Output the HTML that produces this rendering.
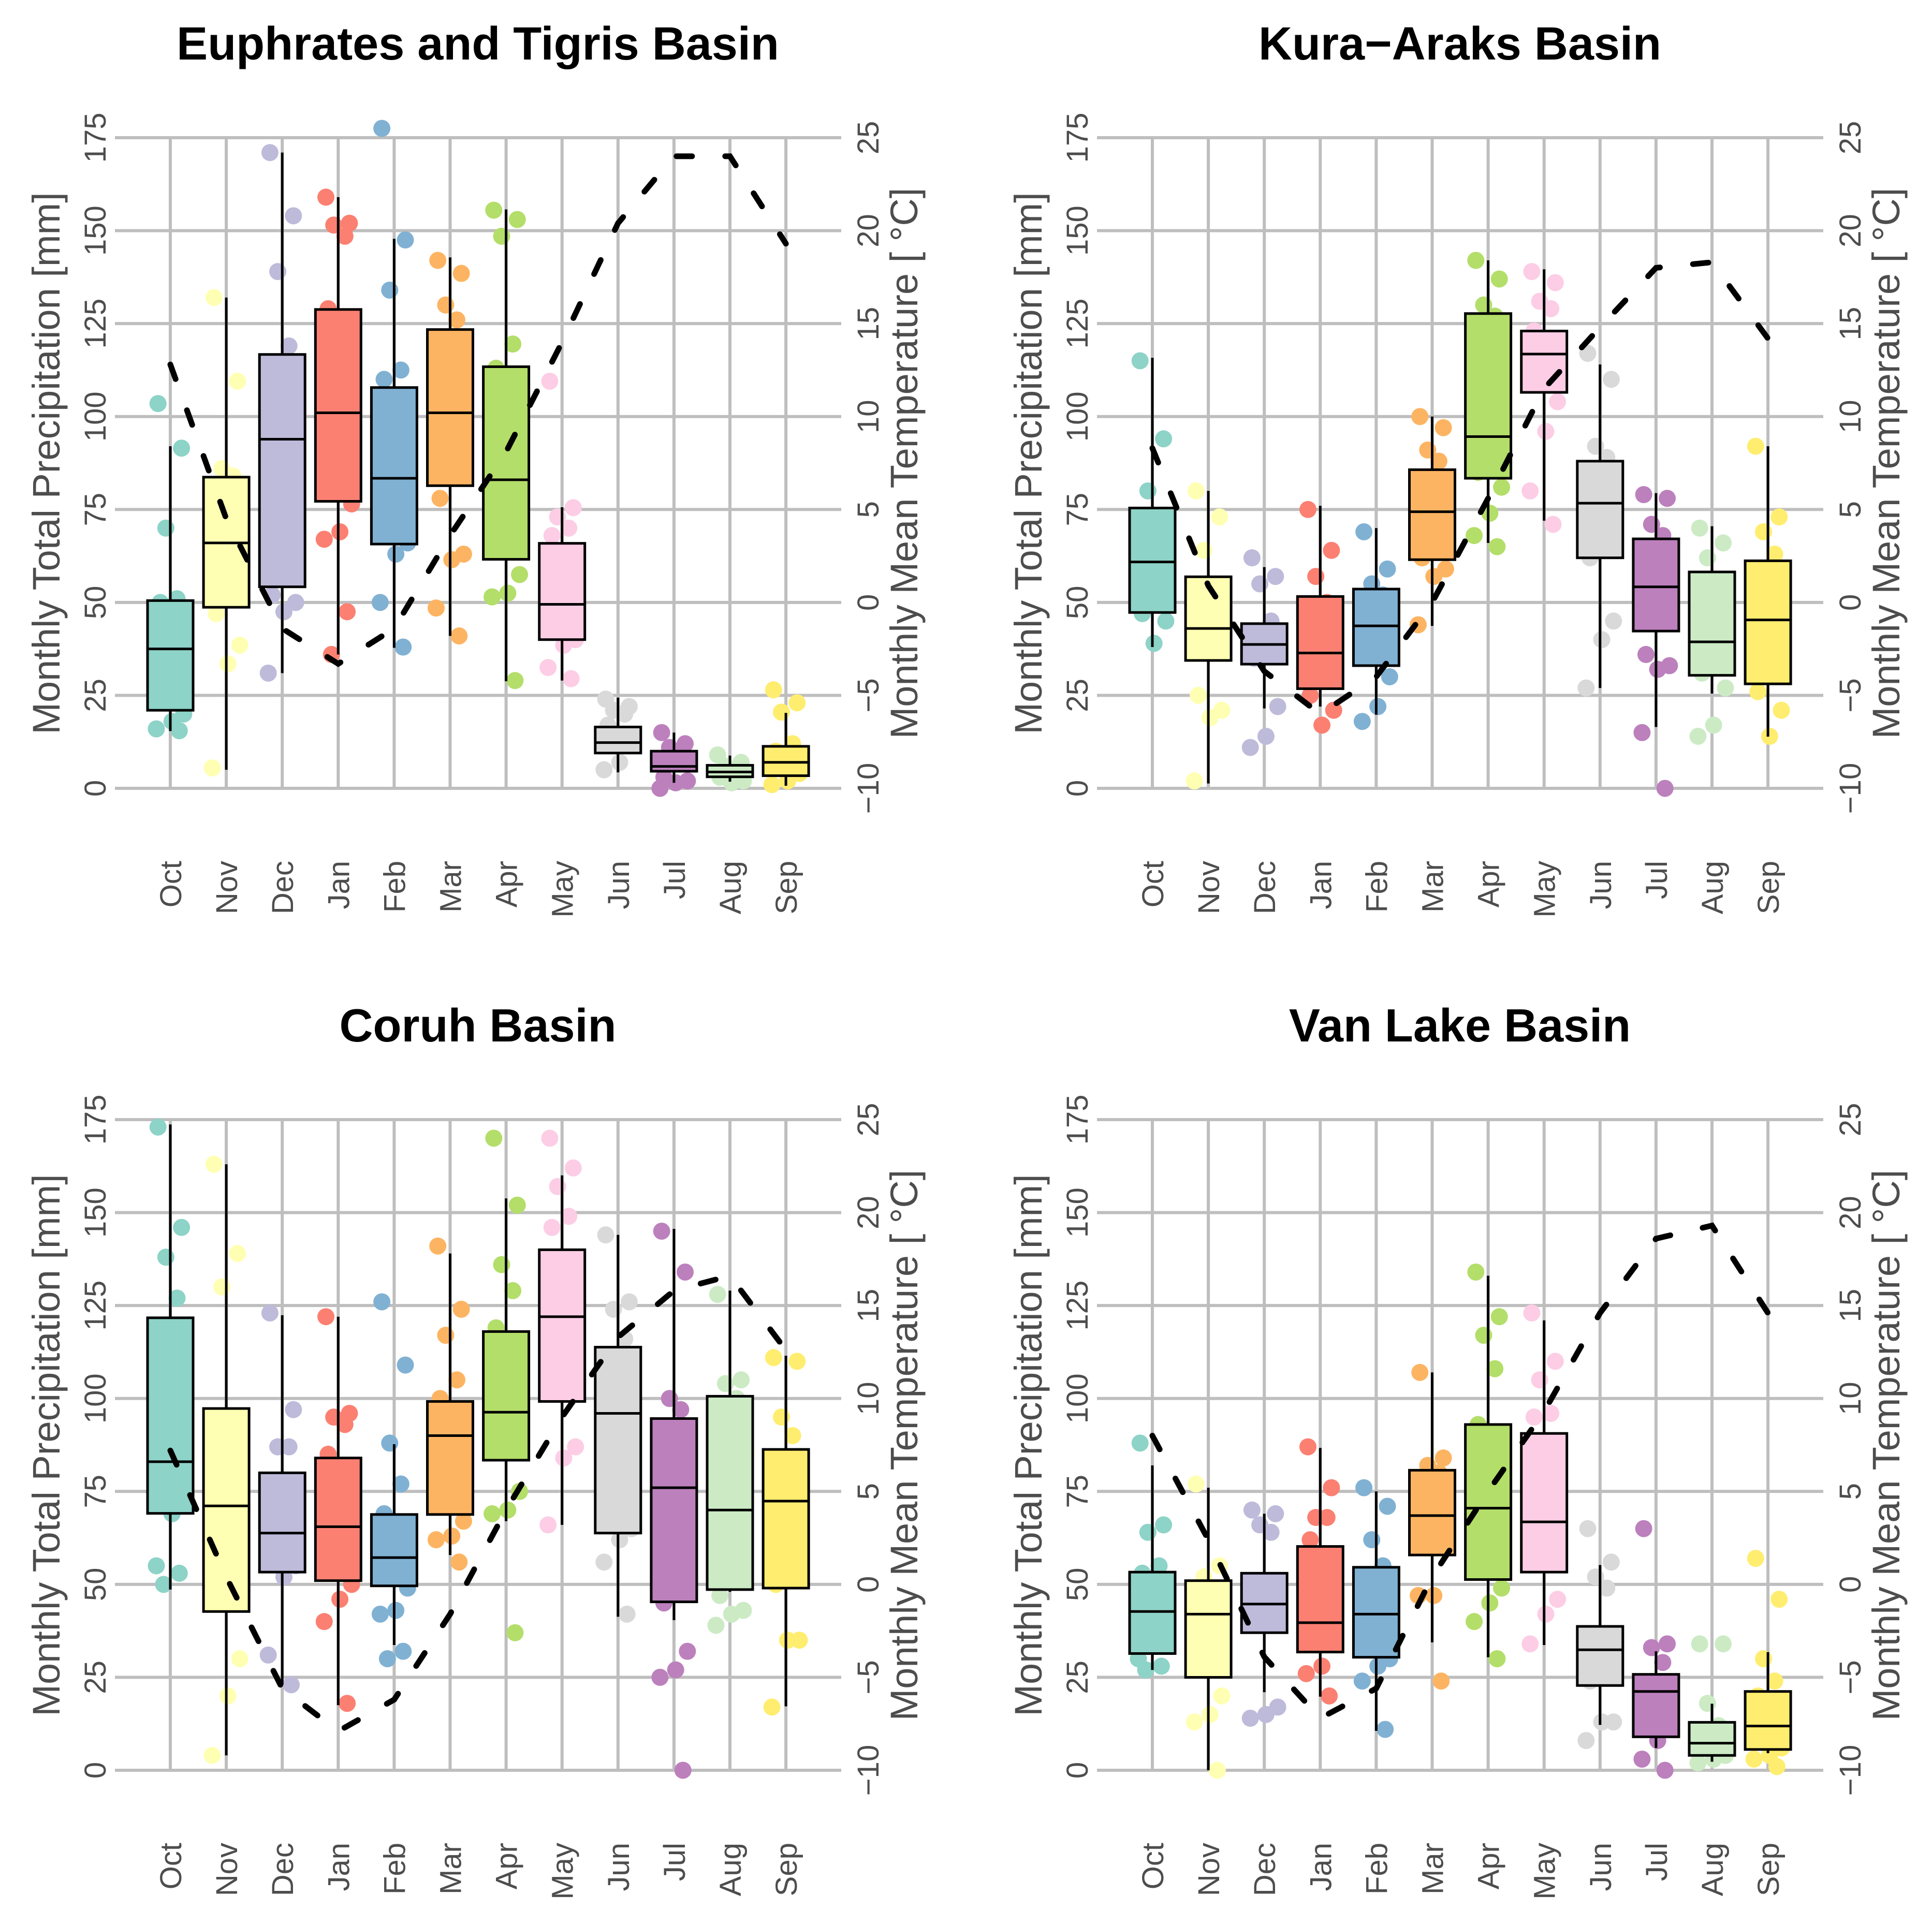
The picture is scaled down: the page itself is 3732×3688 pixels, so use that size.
<!DOCTYPE html>
<html><head><meta charset="utf-8"><style>
html,body{margin:0;padding:0;background:#fff;}
svg{display:block;}
text{font-family:"Liberation Sans",sans-serif;}
</style></head>
<body>
<svg id="chart" xmlns="http://www.w3.org/2000/svg" width="3732" height="3688" viewBox="0 0 3732 3688"></svg>
<script>
const months = ["Oct","Nov","Dec","Jan","Feb","Mar","Apr","May","Jun","Jul","Aug","Sep"];
const boxColors = ["#8DD3C7","#FFFFB3","#BEBADA","#FB8072","#80B1D3","#FDB462","#B3DE69","#FCCDE5","#D9D9D9","#BC80BD","#CCEBC5","#FFED6F"];
const precipTicks = [0,25,50,75,100,125,150,175];
const tempTicks = [-10,-5,0,5,10,15,20,25];
const basinTitles = ["Euphrates and Tigris Basin","Kura\u2212Araks Basin","Coruh Basin","Van Lake Basin"];

const euphStats = [[15.4,21,37.5,50.5,92],[5,48.7,66,83.7,132],[31,54.2,93.9,116.7,171],[36,77.2,101,128.8,159],[37.8,65.7,83.4,107.8,147.8],[41,81.4,101,123.4,142.8],[28.8,61.6,83,113.4,155.7],[29,40,49.5,65.9,75.6],[4.3,9.5,12.3,16.5,24.4],[1.5,4.6,5.9,10,15],[1.8,3.1,4.4,6.2,8.8],[0.7,3.4,7,11.3,20.3]];
const euphPoints = [[103.5,91.5,70,51,50,20,18,16,15.5],[132,109.5,86,84,47,38.5,33.5,5.5],[171,154,139,119,52,50,47.5,31],[159,152,151.5,148.5,129,76.5,69,67,47.5,36],[177.5,147.5,134,112.5,110,66,63,50,38],[142,138.5,130,126,78,63,61.5,48.5,41],[155.5,153,148.5,119.5,113,57.5,52.5,51.5,29],[109.5,75.5,73,70,68,40,38.5,32.5,29.5],[24,22,21,20,17,12,7,5],[15,12,11,9,3,2,1.5,0],[9,7,6,5,3,2,1.5],[26.5,23,20.5,12,10,4,2,1]];
const euphTemp = [12.8,4.5,-1.4,-3.3,-1.4,3.6,8.1,14.0,20.4,24.0,24.0,19.3];

const kuraStats = [[38,47.3,60.9,75.4,115.8],[1.3,34.4,43,56.9,80],[21.5,33.4,38.7,44.3,59.5],[22,26.8,36.4,51.6,76],[19.8,33,43.7,53.6,70],[43.7,61.5,74.4,85.7,100],[66,83.4,94.6,127.7,142],[72,106.5,116.8,123,139.6],[27,62,76.7,88,114],[16.5,42.3,54.2,67.1,79.4],[25.5,30.4,39.4,58.2,70.5],[13.9,28.1,45.3,61.2,92]];
const kuraPoints = [[115,94,80,72,47,45,39],[80,73,64,55,25,21,19,2],[62,57,55,45,35,22,14,11],[75,64,57,50,25,21,17],[69,59,55,52,36,30,22,18],[100,97,91,88,62,59,57,44],[142,137,130,127,85,81,74,68,65],[139,136,131,129,123,104,96,80,71],[117,110,92,89,62,45,40,27],[79,78,71,68,36,33,32,15,0],[70,66,62,52,31,27,17,14],[92,73,69,63,26,21,14]];
const kuraTemp = [8.3,0.9,-3.7,-6.0,-4.0,0.0,5.6,11.5,14.8,18.0,18.3,14.2];

const coruhStats = [[48.6,69.1,83,121.7,173.7],[4,42.7,71.1,97.3,163],[23,53.3,63.8,80,122.4],[17.5,51,65.5,84,122],[33.7,49.6,57.2,68.8,87.7],[57.9,68.8,90,99.2,139],[67,83.4,96.3,118,153.8],[66,99.2,122,140,160],[41.3,63.8,96,113.8,144],[40.4,45.3,76,94.6,145.6],[48,48.6,70,100.6,129],[17.2,49,72.4,86.3,111.5]];
const coruhPoints = [[173,146,138,127,110,72,69,55,53,50],[163,139,130,93,60,30,20,4],[123,97,87,87,77,55,52,31,23],[122,96,95,93,85,50,46,40,18],[126,109,88,77,69,49,43,42,32,30],[141,124,117,105,100,67,63,62,56],[170,152,136,129,119,75,70,69,37],[170,162,157,149,146,87,84,66],[144,126,124,116,96,65,62,56,42],[145,134,100,97,45,32,27,25,0],[128,105,104,100,47,43,42,39],[111,110,95,90,50,35,35,17]];
const coruhTemp = [7.2,0.4,-5.6,-7.9,-6.2,-1.6,4.0,9.0,13.3,15.8,16.6,12.6];

const vanStats = [[27,31.4,42.7,53.3,82],[0,25,42,51,76],[21,37,44.7,53,69],[19.8,31.8,39.7,60.2,86.7],[10.6,30.4,42,54.6,75],[34.4,57.9,68.5,80.7,107],[30.4,51.3,70.5,93,133],[33.7,53.3,66.8,90.6,121],[12.2,22.8,32.4,38.7,55.2],[6,9,21.2,25.8,32],[2.3,4,7.3,12.9,17.9],[4.6,5.6,11.9,21.2,31.8]];
const vanPoints = [[88,66,64,55,53,48,35,30,28,27],[77,55,52,42,28,20,15,13,0],[70,69,66,64,40,17,15,14],[87,76,68,68,62,35,28,26,20],[76,71,62,55,51,30,28,24,11],[107,84,82,80,62,61,47,47,24],[134,122,117,108,93,49,45,40,30],[123,110,105,96,95,46,42,34],[65,56,52,49,24,13,13,8],[65,34,33,29,22,15,8,3,0],[34,34,18,12,8,4,3,2],[57,46,30,24,20,6,4,3,1]];
const vanTemp = [8.0,2.4,-3.9,-7.2,-5.6,0.4,5.0,9.3,14.6,18.6,19.3,14.6];

const allStats = [euphStats,kuraStats,coruhStats,vanStats];
const allPoints = [euphPoints,kuraPoints,coruhPoints,vanPoints];
const allTemps = [euphTemp,kuraTemp,coruhTemp,vanTemp];

const NS = "http://www.w3.org/2000/svg";
const svg = document.getElementById("chart");
function mk(tag, attrs, parent){
  const e = document.createElementNS(NS, tag);
  for (const k in attrs) e.setAttribute(k, attrs[k]);
  parent.appendChild(e);
  return e;
}
const jit = [-0.22,0.2,-0.08,0.12,-0.18,0.24,0.03,-0.25,0.16,-0.12];
const panelOffsets = [[0,0],[1897,0],[0,1897],[1897,1897]];

for (let p = 0; p < 4; p++) {
  const ox = panelOffsets[p][0], oy = panelOffsets[p][1];
  const g = mk("g", {}, svg);
  
  
  const xLeft = ox + 222, xRight = ox + 1625, yTop = oy + 266, yBot = oy + 1523;
  const xPos = i => ox + 329 + i * 108.1;
  const yP = v => yBot - (v / 175) * (yBot - yTop);
  const yT = t => yBot - ((t + 10) / 35) * (yBot - yTop);

  const t = mk("text", {x: ox + 923, y: oy + 115, "text-anchor": "middle", "font-size": 90, "font-weight": "bold", fill: "#000"}, g);
  t.textContent = basinTitles[p];
  
  

  precipTicks.forEach(v => {
    const l = mk("line", {x1: xLeft, x2: xRight, y1: yP(v), y2: yP(v), stroke: "#bebebe", "stroke-width": 6}, g);
    
    
    const tx = mk("text", {x: 0, y: 0, "text-anchor": "middle", "font-size": 58, fill: "#4d4d4d", transform: `translate(${ox + 204},${yP(v)}) rotate(-90)`}, g);
    tx.textContent = v;
    
    
  });
  tempTicks.forEach(v => {
    const tx = mk("text", {x: 0, y: 0, "text-anchor": "middle", "font-size": 58, fill: "#4d4d4d", transform: `translate(${ox + 1697},${yT(v)}) rotate(-90)`}, g);
    tx.textContent = v < 0 ? "\u2212" + Math.abs(v) : v;
    
    
  });
  months.forEach((m, i) => {
    const l = mk("line", {x1: xPos(i), x2: xPos(i), y1: yTop, y2: yBot, stroke: "#bebebe", "stroke-width": 6}, g);
    
    
    const tx = mk("text", {x: 0, y: 0, "text-anchor": "end", "font-size": 58, fill: "#4d4d4d", transform: `translate(${xPos(i) + 21},${oy + 1663}) rotate(-90)`}, g);
    tx.textContent = m;
    
    
  });
  const yt = mk("text", {x: 0, y: 0, "text-anchor": "middle", "font-size": 74, fill: "#4d4d4d", transform: `translate(${ox + 115},${oy + 895}) rotate(-90)`}, g);
  yt.textContent = "Monthly Total Precipitation [mm]";
  
  
  const yt2 = mk("text", {x: 0, y: 0, "text-anchor": "middle", "font-size": 74, fill: "#4d4d4d", transform: `translate(${ox + 1772},${oy + 895}) rotate(-90)`}, g);
  yt2.textContent = "Monthly Mean Temperature [ \u00B0C]";
  
  

  allPoints[p].forEach((pts, i) => {
    pts.forEach((v, k) => {
      const c = mk("circle", {cx: xPos(i) + jit[k % jit.length] * 108.1, cy: yP(v), r: 16.5, fill: boxColors[i]}, g);
      
      
    });
  });
  allStats[p].forEach((s, i) => {
    const x = xPos(i);
    const w1 = mk("line", {x1: x, x2: x, y1: yP(s[0]), y2: yP(s[4]), stroke: "#000", "stroke-width": 5}, g);
    
    
    const r = mk("rect", {x: x - 44, y: yP(s[3]), width: 88, height: Math.max(1, yP(s[1]) - yP(s[3])), fill: boxColors[i], stroke: "#000", "stroke-width": 5}, g);
    
    
    const md = mk("line", {x1: x - 44, x2: x + 44, y1: yP(s[2]), y2: yP(s[2]), stroke: "#000", "stroke-width": 5}, g);
    
    
  });
  const d = allTemps[p].map((tv, i) => (i ? "L" : "M") + xPos(i) + " " + yT(tv)).join(" ");
  const tl = mk("path", {d: d, fill: "none", stroke: "#000", "stroke-width": 11, "stroke-dasharray": "30 64", "stroke-linecap": "round"}, g);
  
  
}
</script>
</body></html>
